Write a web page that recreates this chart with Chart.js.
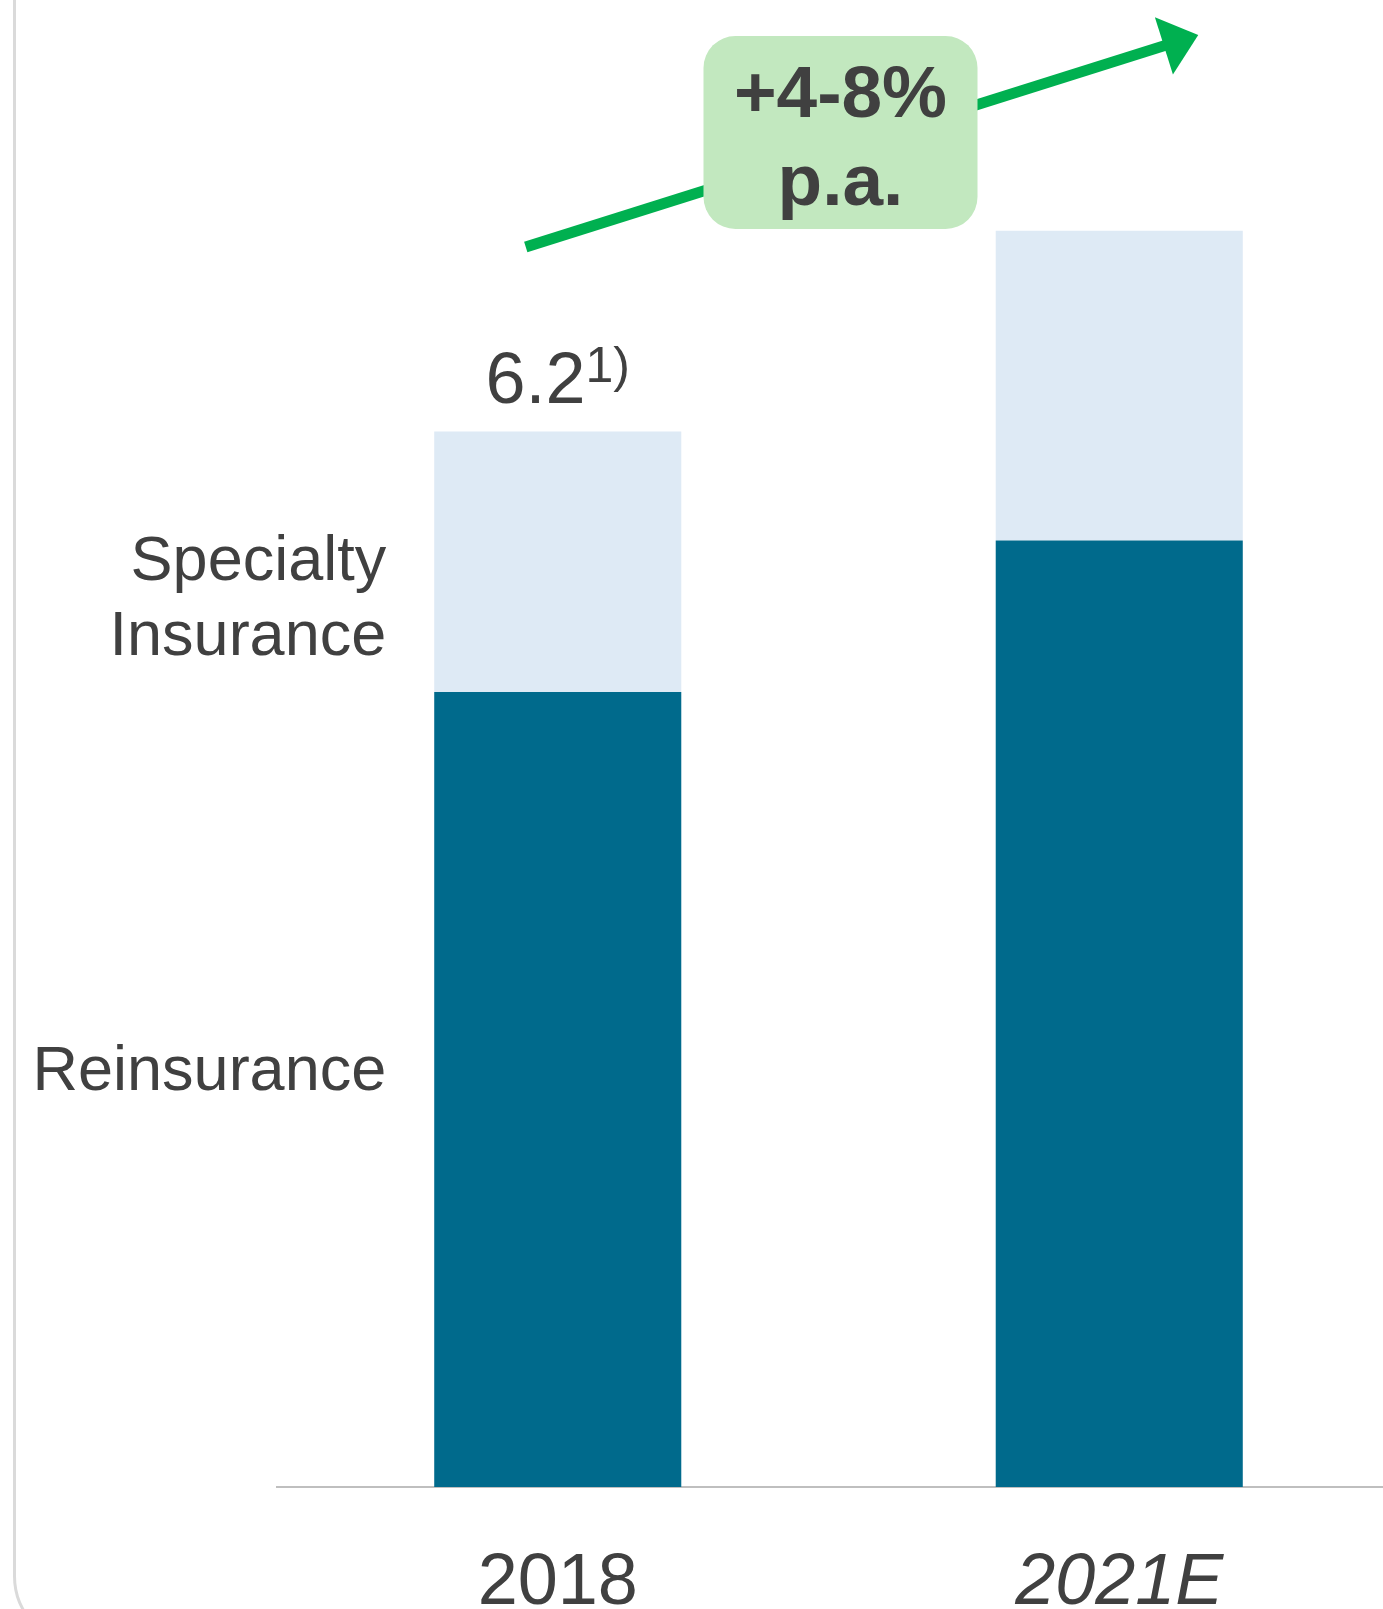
<!DOCTYPE html>
<html>
<head>
<meta charset="utf-8">
<title>Premium growth</title>
<script src="https://cdn.jsdelivr.net/npm/chart.js@4.4.0/dist/chart.umd.min.js"></script>
<style>
  html, body { margin: 0; padding: 0; background: #fff; overflow: hidden; }
  #frame {
    position: absolute; left: 13px; top: -100px;
    width: 2000px; height: 1740px;
    border: 3px solid #dadada; border-radius: 70px;
  }
  #wrap { position: absolute; left: 0; top: 0; width: 1420px; height: 1609px; }
</style>
</head>
<body>
<div id="frame"></div>
<div id="wrap"><canvas id="premium-chart"></canvas></div>
<script>
// values
const YEARS = ["2018", "2021E"];
const REINSURANCE = [4.67, 5.56];
const SPECIALTY = [1.53, 1.82];
const TOTAL_LABELS = ["6.2", ""];
const TOTAL_NOTES = ["1)", ""];
const SEGMENT_LABELS = [["Reinsurance"], ["Specialty", "Insurance"]];
const GROWTH_LABEL = ["+4-8%", "p.a."];

const FONT = "'Liberation Sans', Arial, sans-serif";
const TEXT = "#404040";
const DARK = "#006a8c";
const LIGHT = "#deeaf5";
const GREEN = "#00b050";
const BADGE = "#c2e8bf";

// text and arrow drawn on top of the bars
const annotations = {
  id: "annotations",
  afterDatasetsDraw(chart) {
    const { ctx, chartArea } = chart;
    const low = chart.getDatasetMeta(0).data;
    const high = chart.getDatasetMeta(1).data;

    ctx.save();
    ctx.fillStyle = TEXT;

    // segment names left of the first bar
    const labelRight = low[0].x - low[0].width / 2 - 48;
    const segDy = [0, 18];
    [low[0], high[0]].forEach((bar, i) => {
      const mid = (bar.y + bar.base) / 2;
      ctx.font = `63px ${FONT}`;
      ctx.textAlign = "right";
      ctx.textBaseline = "alphabetic";
      SEGMENT_LABELS[i].forEach((line, j) => {
        ctx.fillText(line, labelRight, mid + segDy[i] + j * 75);
      });
    });

    // totals with footnote marker
    high.forEach((bar, i) => {
      if (!TOTAL_LABELS[i]) return;
      ctx.font = `72px ${FONT}`;
      const w1 = ctx.measureText(TOTAL_LABELS[i]).width;
      ctx.font = `50px ${FONT}`;
      const w2 = ctx.measureText(TOTAL_NOTES[i]).width;
      const x0 = bar.x - (w1 + w2) / 2;
      const base = bar.y - 29;
      ctx.textAlign = "left";
      ctx.font = `72px ${FONT}`;
      ctx.fillText(TOTAL_LABELS[i], x0, base);
      ctx.font = `50px ${FONT}`;
      ctx.fillText(TOTAL_NOTES[i], x0 + w1, base - 21);
    });

    // growth arrow
    const sx = low[0].x - 32, sy = chartArea.top + 207;
    const tx = low[1].x + 79, ty = chartArea.top - 5;
    const len = Math.hypot(tx - sx, ty - sy);
    const ux = (tx - sx) / len, uy = (ty - sy) / len;
    const bx = tx - 36 * ux, by = ty - 36 * uy;
    ctx.strokeStyle = GREEN;
    ctx.lineWidth = 11;
    ctx.lineCap = "butt";
    ctx.beginPath();
    ctx.moveTo(sx, sy);
    ctx.lineTo(bx + 4 * ux, by + 4 * uy);
    ctx.stroke();
    ctx.fillStyle = GREEN;
    ctx.beginPath();
    ctx.moveTo(tx, ty);
    ctx.lineTo(bx - 30 * uy, by + 30 * ux);
    ctx.lineTo(bx + 30 * uy, by - 30 * ux);
    ctx.closePath();
    ctx.fill();

    // growth badge
    const cx = (low[0].x + low[1].x) / 2 + 2;
    const bw = 274, bh = 193, top = chartArea.top - 4;
    ctx.fillStyle = BADGE;
    ctx.beginPath();
    ctx.roundRect(cx - bw / 2, top, bw, bh, 32);
    ctx.fill();
    ctx.fillStyle = TEXT;
    ctx.font = `bold 73px ${FONT}`;
    ctx.textAlign = "center";
    ctx.fillText(GROWTH_LABEL[0], cx, top + 81);
    ctx.fillText(GROWTH_LABEL[1], cx, top + 169);
    ctx.restore();
  },
};

new Chart(document.getElementById("premium-chart"), {
  type: "bar",
  data: {
    labels: YEARS,
    datasets: [
      { label: "Reinsurance", data: REINSURANCE, backgroundColor: DARK },
      { label: "Specialty Insurance", data: SPECIALTY, backgroundColor: LIGHT },
    ],
  },
  options: {
    responsive: true,
    maintainAspectRatio: false,
    animation: false,
    events: [],
    layout: { padding: { left: 277, right: 20, top: 40, bottom: 0 } },
    datasets: { bar: { categoryPercentage: 1, barPercentage: 0.44 } },
    plugins: { legend: { display: false }, tooltip: { enabled: false } },
    scales: {
      x: {
        stacked: true,
        grid: { display: false },
        border: { display: true, color: "#bfbfbf", width: 2 },
        ticks: {
          color: TEXT,
          padding: 46,
          maxRotation: 0,
          font: (c) => ({ family: FONT, size: 72, style: c.index === 1 ? "italic" : "normal" }),
        },
        afterFit: (scale) => { scale.height = 122; },
      },
      y: { stacked: true, display: false, min: 0, max: 8.5 },
    },
  },
  plugins: [annotations],
});
</script>
</body>
</html>
